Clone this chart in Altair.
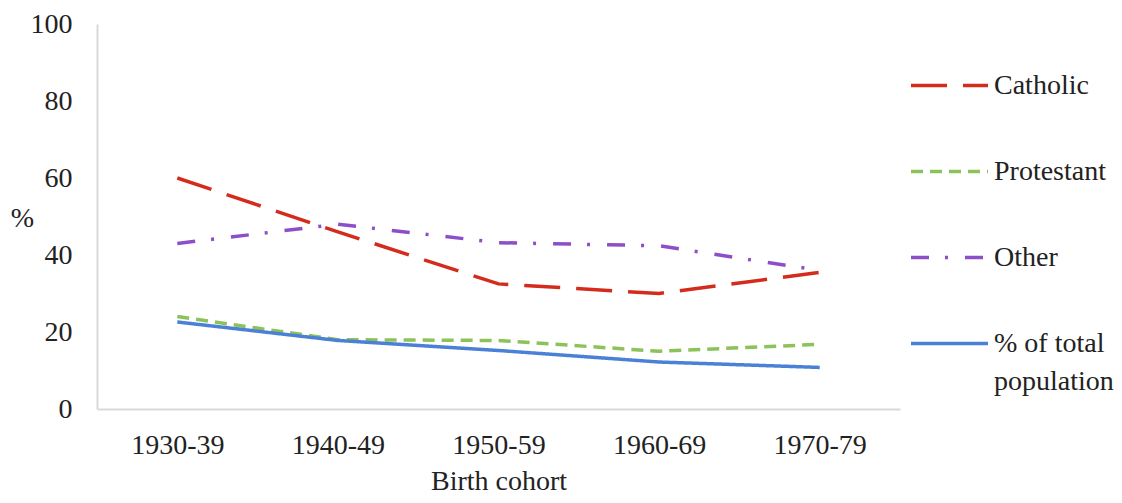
import altair as alt
import pandas as pd

cohorts = ["1930-39", "1940-49", "1950-59", "1960-69", "1970-79"]
series_names = ["Catholic", "Protestant", "Other", "% of total population"]
catholic = [60, 46, 32.5, 30, 35.5]
protestant = [24, 18, 17.8, 15, 16.8]
other = [43, 48, 43.2, 42.4, 36]
total = [22.6, 17.8, 15.2, 12.2, 10.8]

colors = ["#d42c1c", "#8cc25a", "#8c4fc8", "#4a80d6"]
dashes = [[36, 16], [12, 7], [18, 16, 3, 17], [1, 0]]

rows = []
for name, vals in zip(series_names, [catholic, protestant, other, total]):
    for c, v in zip(cohorts, vals):
        rows.append({"cohort": c, "value": v, "series": name})
df = pd.DataFrame(rows)

FONT = "Liberation Serif"
FS = 28

chart = alt.Chart(df).mark_line(strokeWidth=3.5).encode(
    x=alt.X("cohort:N", sort=cohorts,
            axis=alt.Axis(title="Birth cohort", labelAngle=0, ticks=False,
                          labelPadding=22, titlePadding=8,
                          domainColor="#d9d9d9", domainWidth=2)),
    y=alt.Y("value:Q", scale=alt.Scale(domain=[0, 100], nice=False),
            axis=alt.Axis(title="%", values=[0, 20, 40, 60, 80, 100], grid=False,
                          ticks=False, labelPadding=25, titleAngle=0,
                          titleX=-75, titleY=194, titleAlign="center",
                          titleBaseline="middle",
                          domainColor="#d9d9d9", domainWidth=2)),
    color=alt.Color("series:N", sort=series_names,
                    scale=alt.Scale(domain=series_names, range=colors),
                    legend=alt.Legend(title=None, orient="none", legendX=812, legendY=21,
                                      symbolType="stroke", symbolSize=5929,
                                      symbolStrokeWidth=3.5, labelOffset=4,
                                      rowPadding=31, padding=0,
                                      labelFont=FONT, labelFontSize=FS,
                                      labelColor="#222222", labelLimit=300,
                                      labelExpr="datum.label == '% of total population' ? ['% of total', 'population'] : datum.label")),
    strokeDash=alt.StrokeDash("series:N", sort=series_names,
                              scale=alt.Scale(domain=series_names, range=dashes),
                              legend=None),
).properties(
    width=803, height=385,
    autosize=alt.AutoSizeParams(type="none"),
    padding={"left": 89, "top": 16, "right": 214, "bottom": 86},
).configure(
    view={"stroke": None},
    axis={"labelFont": FONT, "titleFont": FONT, "labelFontSize": FS,
          "titleFontSize": FS, "labelColor": "#222222", "titleColor": "#222222",
          "titleFontWeight": "normal"},
    style={"guide-label": {"lineHeight": 38}},
)

chart.save("out.html", embed_options={"renderer": "svg", "actions": False})
